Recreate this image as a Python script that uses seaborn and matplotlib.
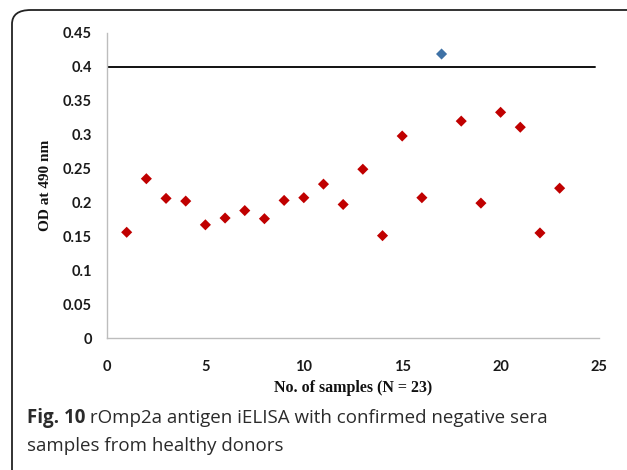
import numpy as np
import pandas as pd
import matplotlib
matplotlib.use("Agg")
import matplotlib.pyplot as plt
import seaborn as sns
from matplotlib.patches import FancyBboxPatch

# ---- data ----
samples = list(range(1, 24))
od_values = [0.156, 0.235, 0.206, 0.202, 0.167, 0.177, 0.188, 0.176, 0.203, 0.207,
             0.227, 0.197, 0.249, 0.151, 0.298, 0.207, 0.419, 0.320, 0.199, 0.333,
             0.311, 0.155, 0.221]
cutoff_value = 0.4
cutoff_x = [0, 24.8]
x_ticks = [0, 5, 10, 15, 20, 25]
y_ticks = [0, 0.05, 0.1, 0.15, 0.2, 0.25, 0.3, 0.35, 0.4, 0.45]
y_tick_labels = ["0", "0.05", "0.1", "0.15", "0.2", "0.25", "0.3", "0.35", "0.4", "0.45"]
x_label = "No. of samples (N = 23)"
y_label = "OD at 490 nm"
caption_bold = "Fig. 10"
caption_rest = " rOmp2a antigen iELISA with confirmed negative sera"
caption_line2 = "samples from healthy donors"

df = pd.DataFrame({"sample": samples, "od": od_values})
df["group"] = np.where(df["od"] > cutoff_value, "above", "below")

sns.set_style("white")

fig = plt.figure(figsize=(6.27, 4.70), dpi=100)
ax = fig.add_axes([107/627, 1 - 338/470, (599-107)/627, (338-33)/470])

sns.scatterplot(data=df, x="sample", y="od", hue="group", marker="D", s=32,
                palette={"below": "#c00000", "above": "#3f72a6"}, edgecolor="none",
                legend=False, ax=ax, zorder=3)
ax.plot(cutoff_x, [cutoff_value, cutoff_value], color="#111111", lw=1.4, zorder=2)

ax.set_xlim(0, 25)
ax.set_ylim(0, 0.45)
ax.set_xticks(x_ticks)
ax.set_yticks(y_ticks)
ax.set_yticklabels(y_tick_labels)
for s in ["top", "right"]:
    ax.spines[s].set_visible(False)
for s in ["left", "bottom"]:
    ax.spines[s].set_color("#bdbdbd")
    ax.spines[s].set_linewidth(1.0)
ax.tick_params(axis="y", direction="out", length=5, width=1, color="#bdbdbd", pad=6)
ax.tick_params(axis="x", direction="inout", length=8, width=1, color="#bdbdbd", pad=12)
for lab in ax.get_xticklabels() + ax.get_yticklabels():
    lab.set_fontfamily("Lato")
    lab.set_fontweight("bold")
    lab.set_fontsize(10.5)
    lab.set_color("#1a1a1a")

ax.set_xlabel(x_label, fontfamily="Liberation Serif", fontweight="bold", fontsize=11.5,
              color="#111111", labelpad=4)
ax.set_ylabel(y_label, fontfamily="Liberation Serif", fontweight="bold", fontsize=11,
              color="#111111", labelpad=8)

# border (rounded top-left corner, running off the right and bottom edges)
border = FancyBboxPatch((12/627, -0.1), 1.2, (460/470) + 0.1,
                        boxstyle="round,pad=0,rounding_size=0.03",
                        transform=fig.transFigure, facecolor="none",
                        edgecolor="#222222", lw=1.3, clip_on=False)
fig.patches.append(border)

# caption
cap_color = "#2b2b2b"
t1 = fig.text(27/627, 1 - 418/470, caption_bold, fontfamily="Open Sans", fontweight="bold",
              fontsize=13.5, color=cap_color, va="center", ha="left")
fig.canvas.draw()
bb = t1.get_window_extent(fig.canvas.get_renderer())
fig.text(bb.x1 / fig.bbox.width, 1 - 418/470, caption_rest, fontfamily="Open Sans",
         fontsize=13.5, color=cap_color, va="center", ha="left")
fig.text(27/627, 1 - 446/470, caption_line2, fontfamily="Open Sans",
         fontsize=13.5, color=cap_color, va="center", ha="left")

fig.savefig("out.png", dpi=100)
